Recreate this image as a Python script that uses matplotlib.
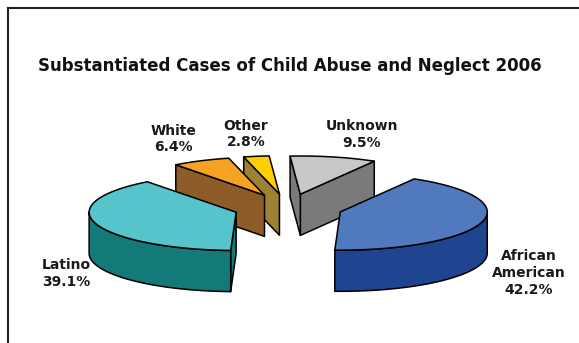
import numpy as np
import matplotlib
matplotlib.use("Agg")
import matplotlib.pyplot as plt
from matplotlib.patches import Polygon
from matplotlib.lines import Line2D

# Data
categories = ["Unknown", "African\nAmerican", "Latino", "White", "Other"]
percents = [9.5, 42.2, 39.1, 6.4, 2.8]
label_texts = ["Unknown\n9.5%", "African\nAmerican\n42.2%", "Latino\n39.1%", "White\n6.4%", "Other\n2.8%"]

top_colors = ["#C8C8C8", "#5079BE", "#55C5CB", "#F5A320", "#FFD000"]
side_colors = ["#7A7A7A", "#1F4590", "#137A78", "#8E5C28", "#9C8232"]

# label anchor points (data units, pie radius = 1)
label_pos = [(0.503, 0.50), (1.64, -0.442), (-1.51, -0.446), (-0.776, 0.469), (-0.286, 0.503)]

title = "Substantiated Cases of Child Abuse and Neglect 2006"

# 3-D pie geometry
TILT = 0.26      # vertical squash of the pie's top ellipse
DEPTH = 0.28     # thickness of the pie
EXPLODE = 0.37   # radial offset of every slice
START = 94.0     # first slice starts just left of 12 o'clock, going clockwise
SCALE = 147.0    # pixels per radius unit

W, H = 579, 343
fig = plt.figure(figsize=(W / 100, H / 100), dpi=100)
ax = fig.add_axes([0, 0, 1, 1])
cx_px, cy_px = 288, 208
ax.set_xlim(-cx_px / SCALE, (W - cx_px) / SCALE)
ax.set_ylim(-(H - cy_px) / SCALE, cy_px / SCALE)
ax.axis("off")


def proj(r, th, h, ox, oy):
    """Project polar point on the pie (radius r, angle th in deg, height h)."""
    t = np.radians(th)
    x = ox + r * np.cos(t)
    y = TILT * (oy + r * np.sin(t)) + h
    return x, y


fractions = np.array(percents) / sum(percents)
edges = START - 360 * np.concatenate([[0], np.cumsum(fractions)])

slices = []
for i in range(len(percents)):
    a_hi, a_lo = edges[i], edges[i + 1]     # ccw angle range [a_lo, a_hi]
    mid = np.radians((a_hi + a_lo) / 2)
    ox, oy = EXPLODE * np.cos(mid), EXPLODE * np.sin(mid)
    slices.append((i, a_lo, a_hi, ox, oy, np.sin(mid)))

# painter's order: back slices first
slices.sort(key=lambda s: -s[5])

LW = 1.1
for i, a_lo, a_hi, ox, oy, _ in slices:
    topc, sidec = top_colors[i], side_colors[i]
    polys = []
    # radial cut faces that turn toward the viewer
    for ang, nrm in ((a_lo, a_lo - 90), (a_hi, a_hi + 90)):
        if np.sin(np.radians(nrm)) < -1e-6:
            p0 = proj(0, ang, 0, ox, oy)
            p1 = proj(1, ang, 0, ox, oy)
            pts = [p0, p1, (p1[0], p1[1] - DEPTH), (p0[0], p0[1] - DEPTH)]
            polys.append(pts)
    # outer curved wall, front half only
    th_all = np.linspace(a_lo, a_hi, 400)
    front = th_all[np.sin(np.radians(th_all)) < 0]
    if front.size > 1:
        top = [proj(1, t, 0, ox, oy) for t in front]
        bot = [(x, y - DEPTH) for x, y in top[::-1]]
        polys.append(top + bot)
    for pts in polys:
        ax.add_patch(Polygon(pts, closed=True, facecolor=sidec,
                             edgecolor="black", lw=LW, joinstyle="round"))
    th = np.linspace(a_lo, a_hi, 120)
    top = [proj(0, 0, 0, ox, oy)] + [proj(1, t, 0, ox, oy) for t in th]
    ax.add_patch(Polygon(top, closed=True, facecolor=topc,
                         edgecolor="black", lw=LW, joinstyle="round"))

for txt, (lx, ly) in zip(label_texts, label_pos):
    ax.text(lx, ly, txt, ha="center", va="center", fontsize=10,
            fontweight="bold", color="#1a1a1a", linespacing=1.25,
            family="DejaVu Sans")

fig.text(290 / W, 1 - 66 / H, title, ha="center", va="center",
         fontsize=12, fontweight="bold", color="#111111", family="DejaVu Sans")

# outer frame (runs past the right and bottom edges)
fig.add_artist(Line2D([8 / W, 1.01], [1 - 8 / H, 1 - 8 / H],
                      transform=fig.transFigure, color="#222222", lw=1.5))
fig.add_artist(Line2D([8 / W, 8 / W], [-0.01, 1 - 8 / H],
                      transform=fig.transFigure, color="#222222", lw=1.5))

fig.savefig("out.png", dpi=100, facecolor="white")
